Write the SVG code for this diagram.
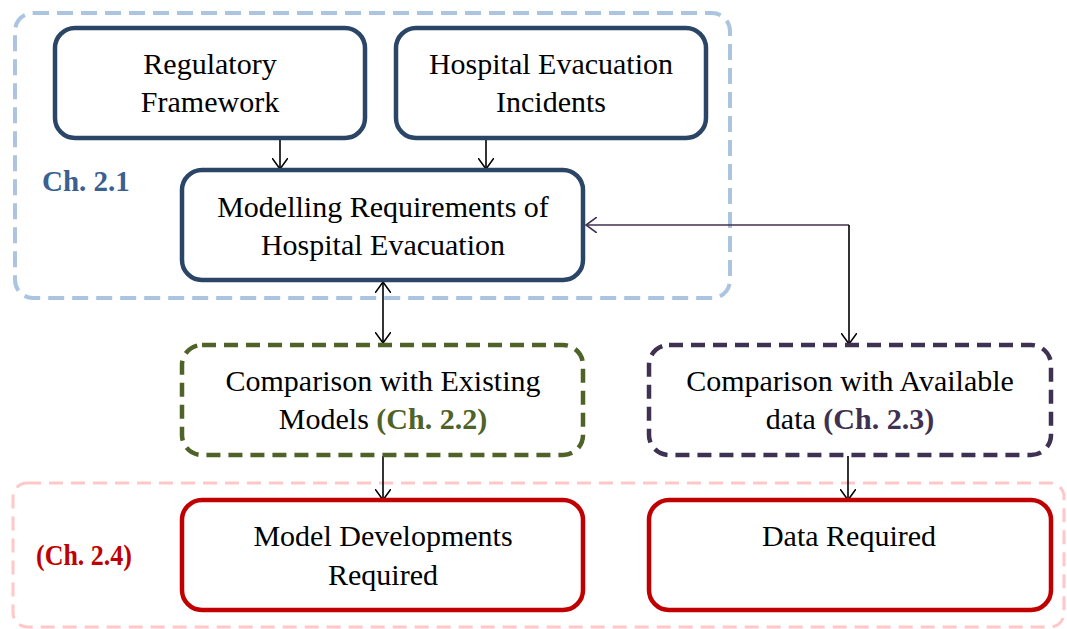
<svg xmlns="http://www.w3.org/2000/svg" width="1067" height="629" viewBox="0 0 1067 629">
<style>
.t{font-family:"Liberation Serif","DejaVu Serif",serif;font-size:30px;fill:#000;text-anchor:middle}
.b{font-weight:bold}
.lab{font-family:"Liberation Serif","DejaVu Serif",serif;font-size:29px;font-weight:bold}
.solid{fill:#fff;stroke-width:4.5}
.dash{fill:#fff;stroke-width:4.5;stroke-dasharray:14 8}
.c{fill:none;stroke:#000;stroke-width:1.6}
</style>
<defs>
<marker id="ah" viewBox="0 0 12 16" refX="11" refY="8" markerWidth="12" markerHeight="16" markerUnits="userSpaceOnUse" orient="auto-start-reverse">
<path d="M0,0 L11,8 L0,16" fill="none" stroke="context-stroke" stroke-width="1.6"/>
</marker>
</defs>
<g id="group-ch21">
<rect x="15" y="13" width="715" height="285" rx="18" fill="none" stroke="#abc4e0" stroke-width="4" stroke-dasharray="16 8"/>
<text x="42" y="191" class="lab" style="fill:#3a6090">Ch. 2.1</text>
</g>
<g id="group-ch24">
<rect x="13" y="483" width="1051" height="144" rx="14" fill="none" stroke="#ffc8c8" stroke-width="3" stroke-dasharray="14 8"/>
<text x="36" y="565" class="lab" style="fill:#c00000" textLength="96" lengthAdjust="spacingAndGlyphs">(Ch. 2.4)</text>
</g>
<g id="connectors">
<line x1="280" y1="139" x2="280" y2="169" class="c" marker-end="url(#ah)"/>
<line x1="486" y1="139" x2="486" y2="169" class="c" marker-end="url(#ah)"/>
<line x1="383" y1="282" x2="383" y2="343" class="c" marker-start="url(#ah)" marker-end="url(#ah)"/>
<line x1="849" y1="225" x2="586" y2="225" class="c" style="stroke:#3f3151" marker-end="url(#ah)"/>
<line x1="849" y1="225" x2="849" y2="344" class="c" marker-end="url(#ah)"/>
<line x1="383" y1="456" x2="383" y2="500" class="c" marker-end="url(#ah)"/>
<line x1="848" y1="456" x2="848" y2="500" class="c" marker-end="url(#ah)"/>
</g>
<g id="node-regulatory">
<rect x="55" y="28" width="310" height="110" rx="20" class="solid" stroke="#2a4566"/>
<text class="t" x="210" y="74">Regulatory</text>
<text class="t" x="210" y="112">Framework</text>
</g>
<g id="node-incidents">
<rect x="396" y="28" width="310" height="110" rx="20" class="solid" stroke="#2a4566"/>
<text class="t" x="551" y="74">Hospital Evacuation</text>
<text class="t" x="551" y="112">Incidents</text>
</g>
<g id="node-modelling">
<rect x="182" y="170" width="401" height="110" rx="20" class="solid" stroke="#2a4566"/>
<text class="t" x="383" y="217">Modelling Requirements of</text>
<text class="t" x="383" y="255">Hospital Evacuation</text>
</g>
<g id="node-existing">
<rect x="182" y="345" width="401" height="110" rx="20" class="dash" stroke="#4f6228"/>
<text class="t" x="383" y="391">Comparison with Existing</text>
<text class="t" x="383" y="429">Models <tspan class="b" style="fill:#4f6228">(Ch. 2.2)</tspan></text>
</g>
<g id="node-available">
<rect x="649" y="345" width="402" height="110" rx="20" class="dash" stroke="#3f3151"/>
<text class="t" x="850" y="391">Comparison with Available</text>
<text class="t" x="850" y="429">data <tspan class="b" style="fill:#3f3151">(Ch. 2.3)</tspan></text>
</g>
<g id="node-modeldev">
<rect x="182" y="500" width="401" height="110" rx="20" class="solid" stroke="#c00000"/>
<text class="t" x="383" y="546">Model Developments</text>
<text class="t" x="383" y="585">Required</text>
</g>
<g id="node-data">
<rect x="649" y="500" width="402" height="110" rx="20" class="solid" stroke="#c00000"/>
<text class="t" x="849" y="546">Data Required</text>
</g>
</svg>
